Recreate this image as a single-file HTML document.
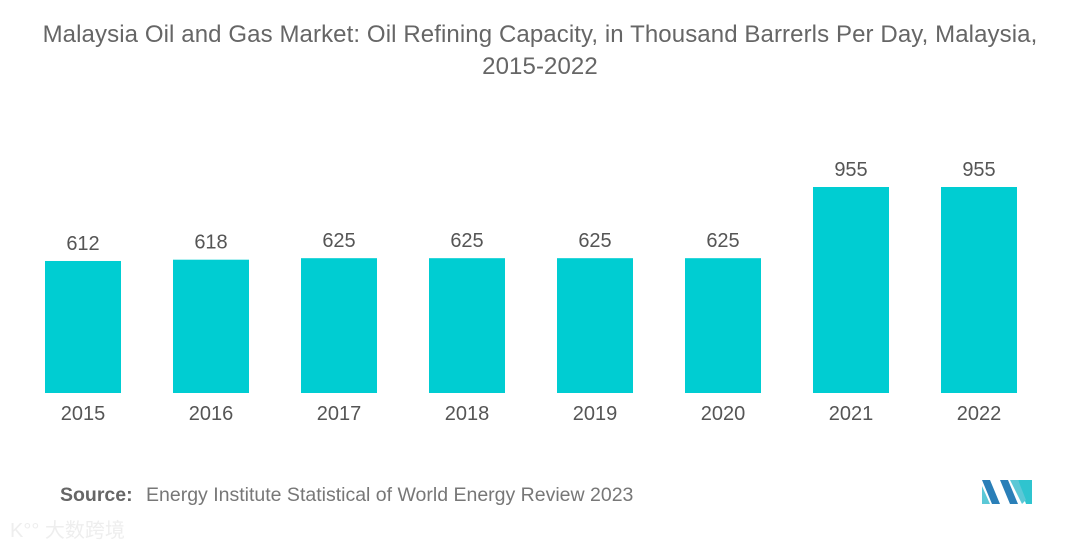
<!DOCTYPE html>
<html><head><meta charset="utf-8"><style>
body{margin:0;width:1080px;height:548px;background:#fff;overflow:hidden;font-family:"Liberation Sans",sans-serif;position:relative}
#title{position:absolute;top:19px;left:0;width:1080px;text-align:center;font-size:24px;line-height:32px;color:#666;letter-spacing:0.1px}
#source{position:absolute;left:60px;top:484px;font-size:19.5px;color:#777}
#source b{color:#666;margin-right:8px}
#wm{position:absolute;left:10px;top:514px;font-size:20px;color:#eee;font-family:"Liberation Sans","Noto Sans CJK SC",sans-serif}
</style></head><body>
<div id="title">Malaysia Oil and Gas Market: Oil Refining Capacity, in Thousand Barrerls Per Day, Malaysia,<br>2015-2022</div>
<svg id="chart" width="1080" height="470" style="position:absolute;left:0;top:0"></svg>
<div id="source"><b>Source:</b> Energy Institute Statistical of World Energy Review 2023</div>
<div id="wm">K°° 大数跨境</div>
<svg width="54" height="28" style="position:absolute;left:982px;top:478px">
<polygon points="0,2 8,2 18,26 10,26" fill="#2a7fb8"/><polygon points="0,8 8,26 0,26" fill="#5bc8d6"/>
<polygon points="18,2 26,2 36,26 28,26" fill="#2a7fb8"/><polygon points="36,2 50,2 50,26 44,26" fill="#2fc4cf"/><polygon points="28,2 36,2 44,22 40,26" fill="#5bc8d6"/>
</svg>
<script>
const categories=["2015","2016","2017","2018","2019","2020","2021","2022"];
const values=[612,618,625,625,625,625,955,955];
const svg=document.getElementById('chart');
const NS='http://www.w3.org/2000/svg';
const baseY=393, scale=206/955, x0=45, pitch=128, bw=76;
function xPos(i){return x0+i*pitch;}
function yPos(v){return baseY-v*scale;}
categories.forEach((c,i)=>{
  const r=document.createElementNS(NS,'rect');
  r.setAttribute('x',xPos(i));r.setAttribute('y',yPos(values[i]));
  r.setAttribute('width',bw);r.setAttribute('height',baseY-yPos(values[i]));
  r.setAttribute('fill','#00cdd2');
  
  
  svg.appendChild(r);
  const t=document.createElementNS(NS,'text');
  t.setAttribute('x',xPos(i)+bw/2);t.setAttribute('y',yPos(values[i])-11);
  t.setAttribute('text-anchor','middle');t.setAttribute('font-size','20');t.setAttribute('fill','#555');
  t.textContent=values[i];
  
  
  svg.appendChild(t);
  const l=document.createElementNS(NS,'text');
  l.setAttribute('x',xPos(i)+bw/2);l.setAttribute('y',420);
  l.setAttribute('text-anchor','middle');l.setAttribute('font-size','20');l.setAttribute('fill','#555');
  l.textContent=c;
  
  
  svg.appendChild(l);
});
</script>
</body></html>
